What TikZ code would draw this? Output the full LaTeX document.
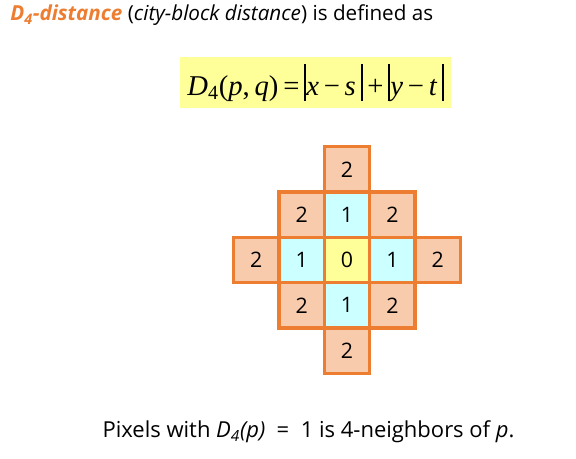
\documentclass[tikz,border=0pt]{standalone}
\usepackage{fontspec}
\setmainfont{Open Sans}
\newfontfamily\eqfont{Liberation Serif}
\definecolor{cellorange}{HTML}{ED7D31}
\definecolor{cellpeach}{HTML}{F8CBAD}
\definecolor{cellcyan}{HTML}{CCFFFF}
\definecolor{cellyellow}{HTML}{FFFF99}
\definecolor{eqyellow}{HTML}{FFFF99}
\newcommand{\absbar}{\rule[-0.2em]{0.07em}{1.3em}}
\tikzset{
  cell/.style={draw=cellorange,line width=2.5pt,minimum size=34pt,inner sep=0pt,font=\fontsize{16}{18}\selectfont},
  far/.style={cell,fill=cellpeach},
  near/.style={cell,fill=cellcyan},
}
\begin{document}
\begin{tikzpicture}[x=0.75pt,y=-0.75pt]
          \useasboundingbox (0,0) rectangle (576,459);
          \node[anchor=base west,inner sep=0pt,font=\fontsize{15.5}{18}\selectfont] at (10,21) (title)
            {{\color{cellorange}\bfseries\itshape D\textsubscript{4}-distance} ({\itshape city-block distance}) is defined as};
          \node[fill=eqyellow,minimum width=203pt,minimum height=38pt,inner sep=0pt] at (315.5,82.5) (eq)
            {\eqfont\fontsize{21.5}{24}\selectfont\itshape D\textsubscript{\upshape 4}\upshape(\itshape p\upshape,\,\itshape q\upshape)\,=\,\absbar\itshape x\upshape\,−\,\itshape s\upshape\,\absbar\,+\,\absbar\itshape y\upshape\,−\,\itshape t\upshape\,\absbar};
          % ring at distance 2
          \node[far] at (347,169.4) (n2) {2};
          \node[far] at (301.6,214.7) (nw) {2};
          \node[far] at (392.4,214.7) (ne) {2};
          \node[far] at (256.2,260) (w2) {2};
          \node[far] at (437.8,260) (e2) {2};
          \node[far] at (301.6,305.3) (sw) {2};
          \node[far] at (392.4,305.3) (se) {2};
          \node[far] at (347,350.6) (s2) {2};
          % 4-neighbors
          \node[near] at (347,214.7) (n1) {1};
          \node[near] at (301.6,260) (w1) {1};
          \node[near] at (392.4,260) (e1) {1};
          \node[near] at (347,305.3) (s1) {1};
          \node[cell,fill=cellyellow] at (347,260) (p) {0};
          \node[anchor=base,inner sep=0pt,font=\fontsize{16.5}{19}\selectfont] at (308.5,438) (note)
            {Pixels with {\itshape D\textsubscript{4}(p)} \ = \ 1 is 4-neighbors of {\itshape p}.};
        \end{tikzpicture}
\end{document}
